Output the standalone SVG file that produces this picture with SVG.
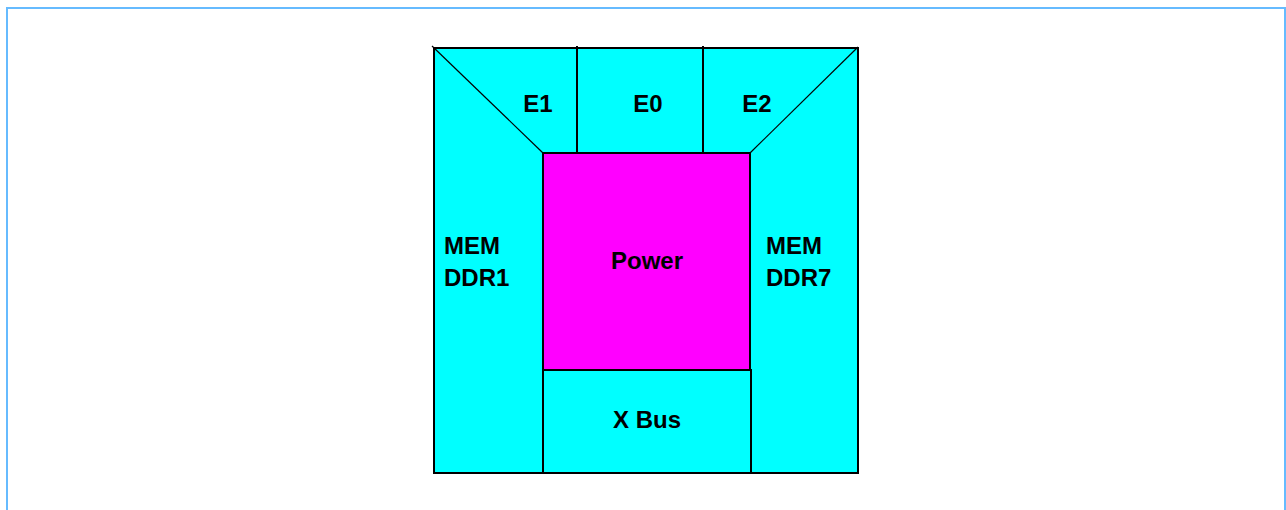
<svg xmlns="http://www.w3.org/2000/svg" width="1286" height="510" viewBox="0 0 1286 510">
<style>
.c{fill:#00FFFF;stroke:none}
.m{fill:#FF00FF;stroke:none}
.t{font-family:"Liberation Sans",Arial,sans-serif;font-weight:bold;font-size:24px;fill:#000}
.ln{stroke:#000;stroke-width:2;fill:none}
.dg{stroke:#000;stroke-width:1.2;fill:none}
</style>
<rect x="0" y="0" width="1286" height="510" fill="#fff"/>
<path d="M7,510 V8 H1285 V510" fill="none" stroke="#66BBFF" stroke-width="2"/>
<g id="mem-ddr1"><polygon class="c" points="433,47 543,153 543,473 433,473"/><text class="t" x="444" y="254">MEM</text><text class="t" x="444" y="286">DDR1</text></g>
<g id="e1"><polygon class="c" points="433,47 577,47 577,153 543,153"/><text class="t" x="538" y="112" text-anchor="middle">E1</text></g>
<g id="e0"><rect class="c" x="577" y="47" width="126" height="106"/><text class="t" x="648" y="112" text-anchor="middle">E0</text></g>
<g id="e2"><polygon class="c" points="703,47 858,47 750,153 703,153"/><text class="t" x="757" y="112" text-anchor="middle">E2</text></g>
<g id="mem-ddr7"><polygon class="c" points="858,47 858,473 750,473 750,153"/><text class="t" x="766" y="254">MEM</text><text class="t" x="766" y="286">DDR7</text></g>
<g id="power"><rect class="m" x="543" y="153" width="207" height="217"/><text class="t" x="647" y="269" text-anchor="middle">Power</text></g>
<g id="x-bus"><rect class="c" x="543" y="370" width="208" height="103"/><text class="t" x="647" y="428" text-anchor="middle">X Bus</text></g>
<g id="connectors">
<rect class="ln" x="434" y="48" width="424" height="425"/>
<line class="dg" x1="432" y1="46" x2="543" y2="153"/>
<line class="dg" x1="858" y1="47" x2="750" y2="153"/>
<line class="ln" x1="577" y1="46" x2="577" y2="153"/>
<line class="ln" x1="703" y1="46" x2="703" y2="153"/>
<rect class="ln" x="543" y="153" width="207" height="217"/>
<rect class="ln" x="543" y="370" width="208" height="103"/>
</g>
</svg>
